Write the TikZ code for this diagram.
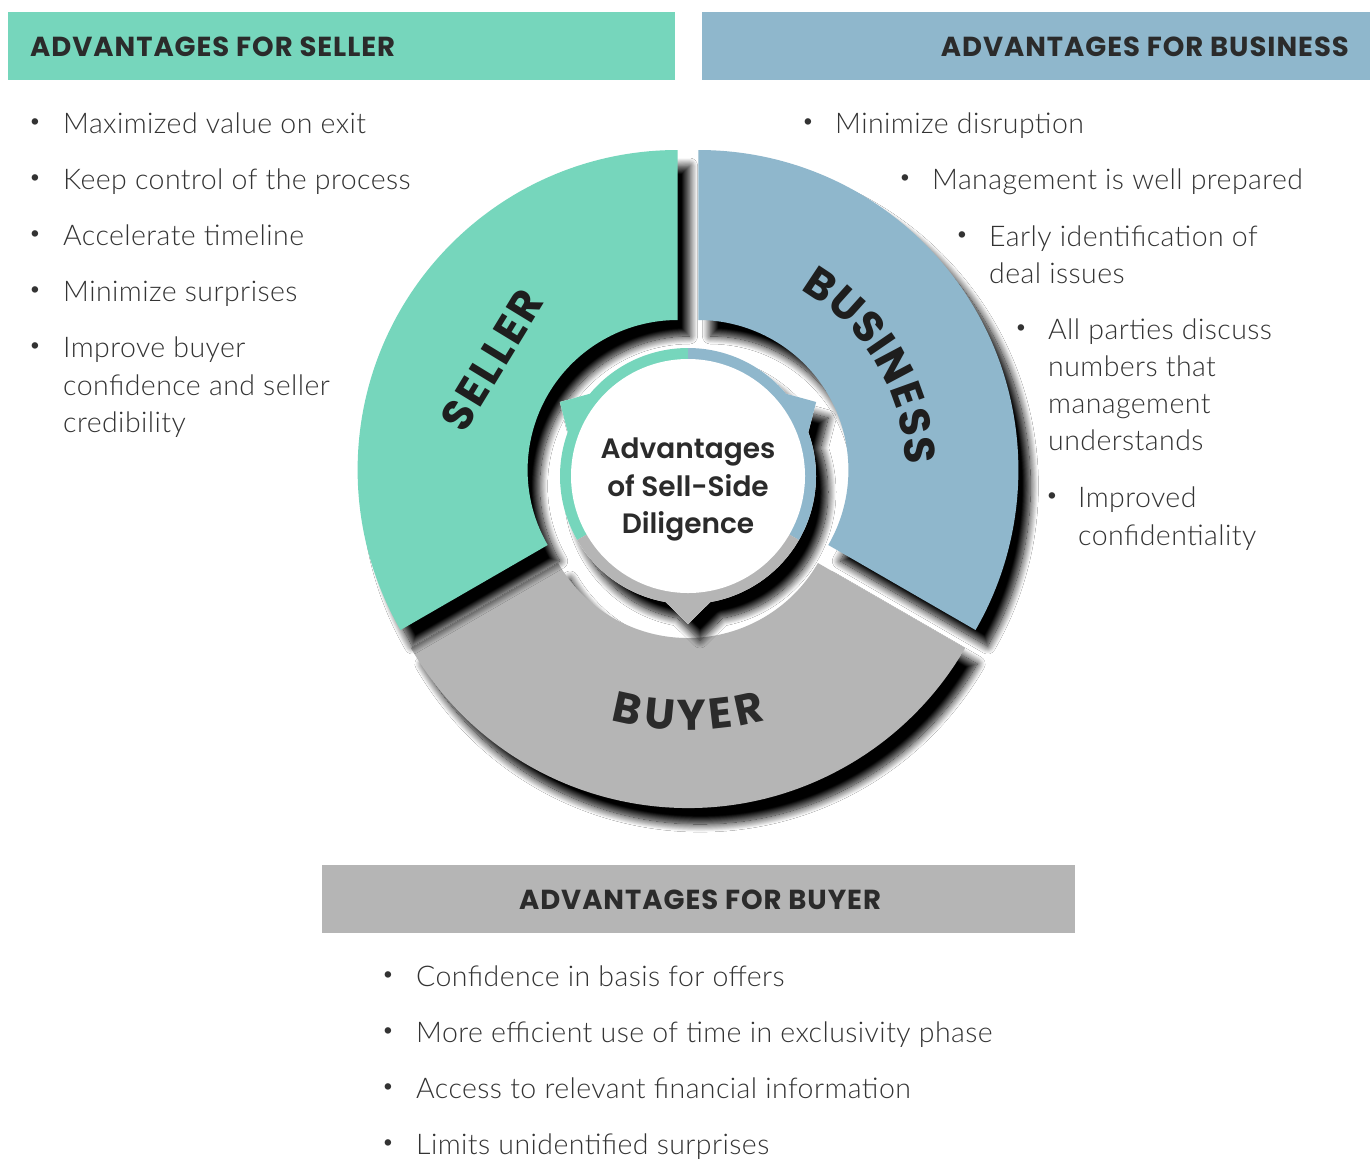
\documentclass[tikz,border=0pt]{standalone}
\usepackage{fontspec}
\setmainfont{Lato}
\newfontfamily\bodyfont{Lato Light}[LetterSpace=1.5]
\newfontfamily\semifont{Poppins SemiBold}
\newfontfamily\lblA{Poppins Bold}[LetterSpace=6]
\newfontfamily\lblB{Poppins Bold}
\newfontfamily\hdrfont{Poppins Bold}[LetterSpace=3.5]
\usetikzlibrary{shadows.blur}
\definecolor{sellc}{HTML}{76D6BC}
\definecolor{busc}{HTML}{8FB7CC}
\definecolor{buyc}{HTML}{B5B5B5}
\definecolor{txtc}{HTML}{333333}
\definecolor{hdrc}{HTML}{2B2B2B}
\definecolor{lblc}{HTML}{1E1E1E}
\newcommand\lblfontA{\lblA\fontsize{43}{43}\selectfont}
\newcommand\lblfontB{\lblB\fontsize{43}{43}\selectfont}
\tikzset{
  bodytxt/.style={inner sep=0pt, anchor=base west, text=txtc, font=\bodyfont\fontsize{28.5}{32}\selectfont},
  bul/.style={inner sep=0pt, text=txtc, font=\bodyfont\fontsize{22}{22}\selectfont},
  hdrtxt/.style={inner sep=0pt, text=hdrc, font=\hdrfont\fontsize{27.5}{27.5}\selectfont},
  hdrbox/.style={inner sep=0pt, draw=none, minimum height=68pt, anchor=north west},
  segshadow/.style={blur shadow={shadow xshift=12pt, shadow yshift=-16pt, shadow blur radius=8pt, shadow blur steps=16, shadow opacity=100}},
  lbl/.style={inner sep=0pt, text=lblc, font=\lblfontA},
  lblletter/.style={inner sep=0pt, anchor=base, font=\lblfontB},
  ctr/.style={inner sep=0pt, text=hdrc, font=\semifont\fontsize{28}{28}\selectfont, anchor=base},
}
\begin{document}
\begin{tikzpicture}[x=1pt,y=1pt]
\fill[white] (0,0) rectangle (1370,-1160);
\useasboundingbox (0,0) rectangle (1370,-1160);

% header boxes
\node[hdrbox, fill=sellc, minimum width=667pt] (hsbox) at (8,-12) {};
\node[hdrbox, fill=busc, minimum width=668pt] (hbbox) at (702,-12) {};
\node[hdrbox, fill=buyc, minimum width=753pt] (hybox) at (322,-865) {};
\node[hdrtxt, anchor=base west] (hst) at (30,-56) {ADVANTAGES FOR SELLER};
\node[hdrtxt, anchor=base east] (hbt) at (1349,-56) {ADVANTAGES FOR BUSINESS};
\node[hdrtxt, anchor=base] (hyt) at (700,-909) {ADVANTAGES FOR BUYER};

% seller list
\node[bul] (sb1) at (35,-124) {•};
\node[bodytxt] (s1) at (63,-133) {Maximized value on exit};
\node[bul] (sb2) at (35,-180) {•};
\node[bodytxt] (s2) at (63,-189) {Keep control of the process};
\node[bul] (sb3) at (35,-236) {•};
\node[bodytxt] (s3) at (63,-245) {Accelerate timeline};
\node[bul] (sb4) at (35,-292) {•};
\node[bodytxt] (s4) at (63,-301) {Minimize surprises};
\node[bul] (sb5) at (35,-348) {•};
\node[bodytxt] (s5a) at (63,-357) {Improve buyer};
\node[bodytxt] (s5b) at (63,-395) {confidence and seller};
\node[bodytxt] (s5c) at (63,-432) {credibility};

% business list
\node[bul] (bb1) at (808,-124) {•};
\node[bodytxt] (b1) at (835,-133) {Minimize disruption};
\node[bul] (bb2) at (905,-180) {•};
\node[bodytxt] (b2) at (932,-189) {Management is well prepared};
\node[bul] (bb3) at (962,-237) {•};
\node[bodytxt] (b3a) at (989,-246) {Early identification of};
\node[bodytxt] (b3b) at (989,-283) {deal issues};
\node[bul] (bb4) at (1021,-330) {•};
\node[bodytxt] (b4a) at (1048,-339) {All parties discuss};
\node[bodytxt] (b4b) at (1048,-376) {numbers that};
\node[bodytxt] (b4c) at (1048,-413) {management};
\node[bodytxt] (b4d) at (1048,-450) {understands};
\node[bul] (bb5) at (1052,-498) {•};
\node[bodytxt] (b5a) at (1078,-507) {Improved};
\node[bodytxt] (b5b) at (1078,-545) {confidentiality};

% buyer list
\node[bul] (yb1) at (388,-977) {•};
\node[bodytxt] (y1) at (416,-986) {Confidence in basis for offers};
\node[bul] (yb2) at (388,-1033) {•};
\node[bodytxt] (y2) at (416,-1042) {More efficient use of time in exclusivity phase};
\node[bul] (yb3) at (388,-1089) {•};
\node[bodytxt] (y3) at (416,-1098) {Access to relevant financial information};
\node[bul] (yb4) at (388,-1145) {•};
\node[bodytxt] (y4) at (416,-1154) {Limits unidentified surprises};

% big segments
\begin{scope}[shift={(688,-488)}]
\path[fill=buyc, segshadow] (210:320) arc[start angle=210, end angle=330, radius=320] -- (330:150) arc[start angle=330, end angle=210, radius=150] -- cycle;
\end{scope}
\begin{scope}[shift={(698.39,-470)}]
\path[fill=busc, segshadow] (90:320) arc[start angle=90, end angle=-30, radius=320] -- (-30:150) arc[start angle=-30, end angle=90, radius=150] -- cycle;
\end{scope}
\begin{scope}[shift={(677.61,-470)}]
\path[fill=sellc, segshadow] (90:320) arc[start angle=90, end angle=210, radius=320] -- (210:150) arc[start angle=210, end angle=90, radius=150] -- cycle;
\end{scope}

% inner ring
\begin{scope}[shift={(688,-476)}]
\path[fill=white, segshadow] (20:128) -- (30:148) -- (40:128) arc[start angle=40, end angle=140, radius=128] -- (150:148) -- (160:128) arc[start angle=160, end angle=260, radius=128] -- (270:148) -- (280:128) arc[start angle=280, end angle=380, radius=128] -- cycle;
\path[fill=sellc] (90:128) arc[start angle=90, end angle=140, radius=128] -- (150:148) -- (160:128) arc[start angle=160, end angle=210, radius=128] -- (210:100) arc[start angle=210, end angle=90, radius=100] -- cycle;
\path[fill=busc] (90:128) arc[start angle=90, end angle=40, radius=128] -- (30:148) -- (20:128) arc[start angle=20, end angle=-30, radius=128] -- (-30:100) arc[start angle=-30, end angle=90, radius=100] -- cycle;
\path[fill=buyc] (210:128) arc[start angle=210, end angle=260, radius=128] -- (270:148) -- (280:128) arc[start angle=280, end angle=330, radius=128] -- (330:100) arc[start angle=330, end angle=210, radius=100] -- cycle;
\end{scope}
\node[circle, fill=white, minimum size=234pt, inner sep=0pt] (ctrc) at (688,-476) {};

% centre text
\node[ctr] (c1) at (688,-458) {Advantages};
\node[ctr] (c2) at (688,-496.5) {of Sell-Side};
\node[ctr] (c3) at (688,-533.5) {Diligence};

% segment labels
\node[lbl, rotate=58.6] (lseller) at (492,-360) {SELLER};
\foreach \l/\a [count=\i] in {B/56.47, U/48.06, S/40.05, I/34.42, N/27.96, E/19.8, S/12.48, S/5.06}
  \node[lblletter, text=lblc, rotate=\a-90] (bus\i) at ([shift={(698.39,-470)}]\a:207) {\l};
\foreach \l/\a [count=\i] in {B/257.8, U/264.4, Y/270.7, E/276.5, R/282.3}
  \node[lblletter, text=hdrc, rotate=\a+90] (buy\i) at ([shift={(688,-430)}]\a:300) {\l};
\end{tikzpicture}
\end{document}
